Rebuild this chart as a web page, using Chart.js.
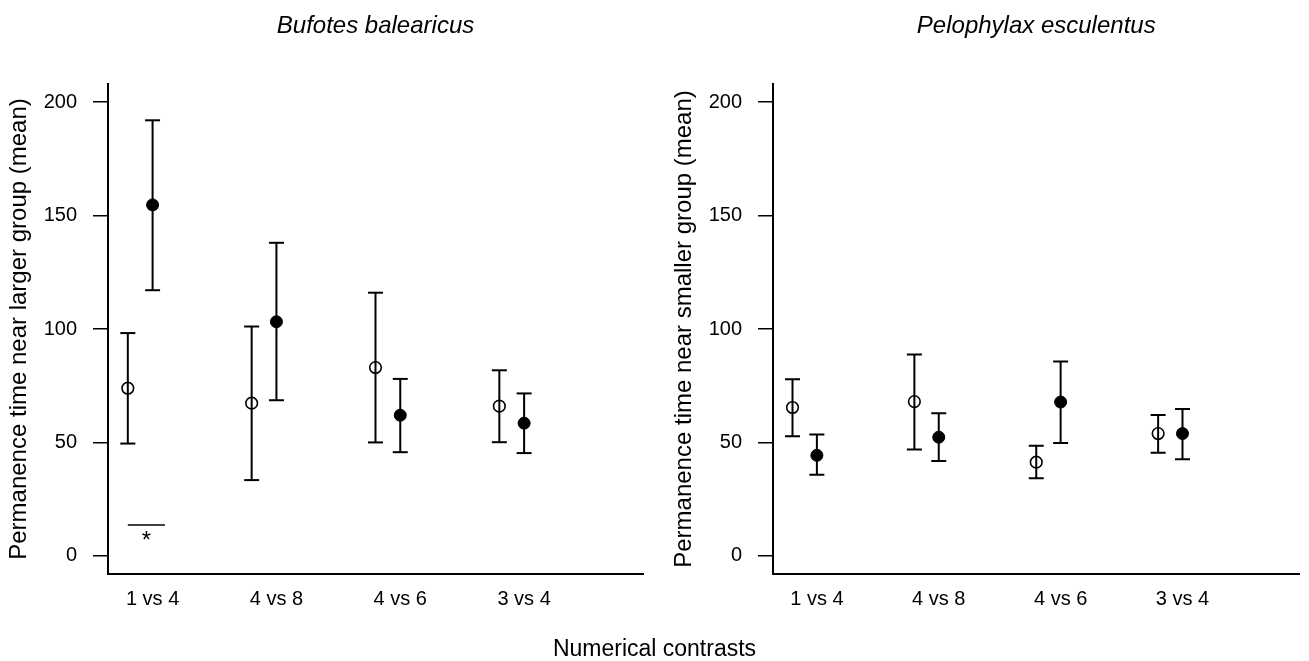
<!DOCTYPE html>
<html>
<head>
<meta charset="utf-8">
<script src="https://cdn.jsdelivr.net/npm/chart.js@4/dist/chart.umd.min.js"></script>
<style>
  body { margin: 0; background: #fff; width: 1309px; height: 661px; position: relative; overflow: hidden;
         font-family: "Liberation Sans", Arial, Helvetica, sans-serif; }
  #left { position: absolute; left: 0; top: 0; }
  #right { position: absolute; left: 665px; top: 0; }
  #xlabel { position: absolute; left: 0; top: 634px; width: 1309px; text-align: center;
            font-size: 23px; line-height: 28px; color: #000; }
</style>
</head>
<body>
<canvas id="left" width="655" height="661"></canvas>
<canvas id="right" width="644" height="661"></canvas>
<div id="xlabel">Numerical contrasts</div>

<script>
// categories on the x axis
var contrasts = ['1 vs 4', '4 vs 8', '4 vs 6', '3 vs 4'];
var yTicks = [0, 50, 100, 150, 200];

// Bufotes balearicus
var bufoOpenMean   = [73.9, 67.3, 83.0, 66.0];
var bufoOpenLow    = [49.5, 33.4, 50.0, 50.1];
var bufoOpenHigh   = [98.2, 101.1, 116.0, 81.8];
var bufoFilledMean = [154.7, 103.2, 62.0, 58.5];
var bufoFilledLow  = [117.1, 68.6, 45.7, 45.3];
var bufoFilledHigh = [192.0, 138.0, 78.0, 71.6];

// Pelophylax esculentus
var peloOpenMean   = [65.4, 68.0, 41.3, 53.9];
var peloOpenLow    = [52.7, 46.9, 34.2, 45.4];
var peloOpenHigh   = [77.9, 88.8, 48.5, 62.1];
var peloFilledMean = [44.3, 52.3, 67.8, 53.9];
var peloFilledLow  = [35.7, 41.8, 49.8, 42.6];
var peloFilledHigh = [53.5, 62.9, 85.7, 64.7];

// significance mark (1 vs 4, Bufotes)
var sigFrom = 0.8, sigTo = 1.1, sigY = 13.6, starY = 9.5;

var FONT = '"Liberation Sans", Arial, Helvetica, sans-serif';
var positions = contrasts.map(function (c, i) { return i + 1; });

function errorData(low, high, off) {
  var out = [];
  positions.forEach(function (p, i) {
    out.push({x: p + off, y: low[i]});
    out.push({x: p + off, y: high[i]});
    out.push({x: p + off, y: null});
  });
  return out;
}

function meanData(mean, off) {
  return positions.map(function (p, i) { return {x: p + off, y: mean[i]}; });
}

var starPlugin = {
  id: 'star',
  afterDatasetsDraw: function (chart) {
    if (!chart.options.plugins.star.show) return;
    var ctx = chart.ctx;
    var xs = chart.scales.x, ys = chart.scales.y;
    ctx.save();
    ctx.fillStyle = '#000';
    ctx.font = '24px ' + FONT;
    ctx.textAlign = 'center';
    ctx.textBaseline = 'alphabetic';
    ctx.fillText('*', xs.getPixelForValue((sigFrom + sigTo) / 2), ys.getPixelForValue(starY) + 14);
    ctx.restore();
  }
};

function makeChart(id, title, yTitle, oMean, oLow, oHigh, fMean, fLow, fHigh, padRight, withStar) {
  var datasets = [
    {data: errorData(oLow, oHigh, -0.2), showLine: true, spanGaps: false, borderColor: '#000', borderWidth: 2,
     pointStyle: 'line', pointRadius: 7.5, pointBorderWidth: 2, pointBorderColor: '#000'},
    {data: errorData(fLow, fHigh, 0), showLine: true, spanGaps: false, borderColor: '#000', borderWidth: 2,
     pointStyle: 'line', pointRadius: 7.5, pointBorderWidth: 2, pointBorderColor: '#000'},
    {data: meanData(oMean, -0.2), pointStyle: 'circle', pointRadius: 5.8, pointBorderWidth: 1.6,
     pointBorderColor: '#000', pointBackgroundColor: 'rgba(0,0,0,0)'},
    {data: meanData(fMean, 0), pointStyle: 'circle', pointRadius: 6, pointBorderWidth: 1,
     pointBorderColor: '#000', pointBackgroundColor: '#000'}
  ];
  if (withStar) {
    datasets.push({data: [{x: sigFrom, y: sigY}, {x: sigTo, y: sigY}], showLine: true,
                   borderColor: '#000', borderWidth: 1.6, pointRadius: 0});
  }

  return new Chart(document.getElementById(id), {
    type: 'scatter',
    data: {datasets: datasets},
    plugins: [starPlugin],
    options: {
      responsive: false,
      animation: false,
      events: [],
      layout: {padding: {left: 0, right: padRight, top: 0, bottom: 0}},
      plugins: {legend: {display: false}, tooltip: {enabled: false}, star: {show: withStar}},
      scales: {
        x: {
          type: 'linear', position: 'bottom', min: 0.64, max: 4.96,
          afterBuildTicks: function (s) { s.ticks = positions.map(function (v) { return {value: v}; }); },
          afterFit: function (s) { s.height = 87; },
          ticks: {
            color: '#000', font: {family: FONT, size: 20}, padding: 13, maxRotation: 0, autoSkip: false,
            callback: function (v) { return contrasts[positions.indexOf(v)]; }
          },
          grid: {display: true, drawOnChartArea: false, drawTicks: false},
          border: {display: true, color: '#000', width: 2}
        },
        xt: {
          type: 'linear', position: 'top', min: 0.64, max: 4.96,
          afterFit: function (s) { s.height = 84; },
          ticks: {display: false},
          grid: {display: false},
          border: {display: false},
          title: {display: true, text: title, color: '#000',
                  font: {family: FONT, size: 24, style: 'italic'}, padding: {top: 12, bottom: 0}}
        },
        y: {
          type: 'linear', position: 'left', min: -8, max: 208,
          afterBuildTicks: function (s) { s.ticks = yTicks.map(function (v) { return {value: v}; }); },
          afterFit: function (s) { s.width = 108; },
          ticks: {color: '#000', font: {family: FONT, size: 20}, padding: 16},
          grid: {display: true, drawOnChartArea: false, drawTicks: true, tickLength: 15,
                 color: '#000', lineWidth: 1.5},
          border: {display: true, color: '#000', width: 2},
          title: {display: true, text: yTitle, color: '#000',
                  font: {family: FONT, size: 24}, padding: {top: 5, bottom: 0}}
        }
      }
    }
  });
}

makeChart('left', 'Bufotes balearicus', 'Permanence time near larger group (mean)',
  bufoOpenMean, bufoOpenLow, bufoOpenHigh, bufoFilledMean, bufoFilledLow, bufoFilledHigh, 12, true);
makeChart('right', 'Pelophylax esculentus', 'Permanence time near smaller group (mean)',
  peloOpenMean, peloOpenLow, peloOpenHigh, peloFilledMean, peloFilledLow, peloFilledHigh, 1, false);
</script>
</body>
</html>
